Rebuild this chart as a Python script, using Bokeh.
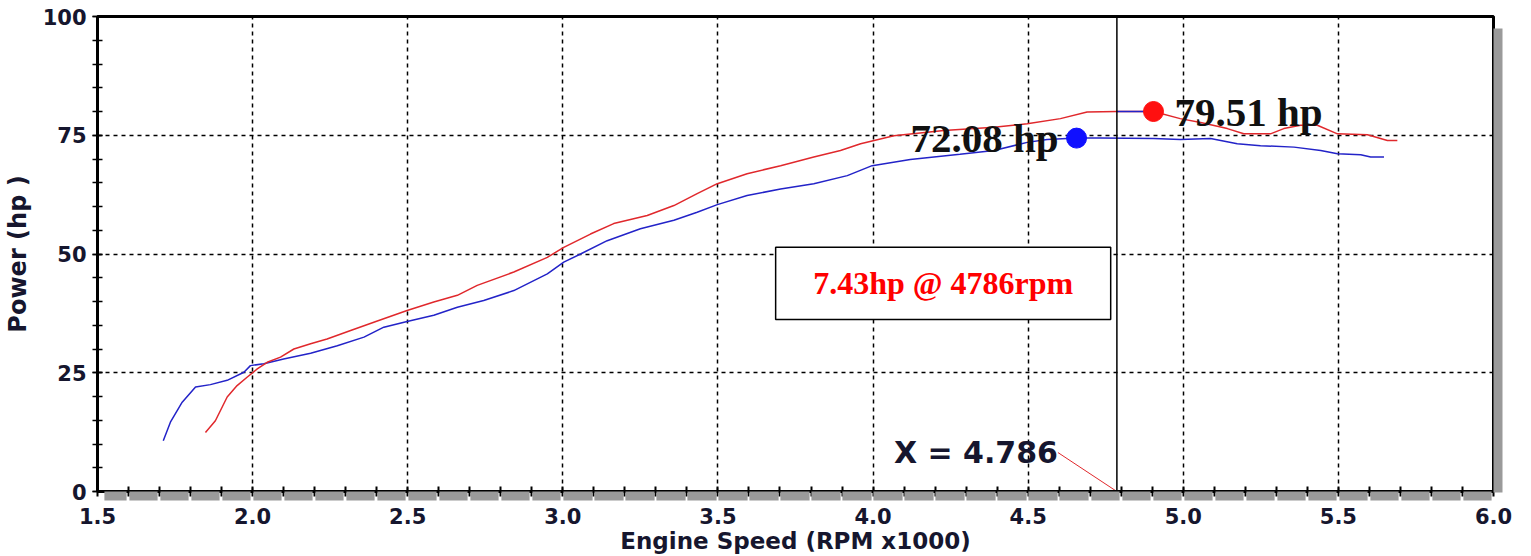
from bokeh.plotting import figure
from bokeh.models import (Range1d, SingleIntervalTicker, FixedTicker, CustomJSTickFormatter,
                          LinearAxis, Label, BoxAnnotation)
from bokeh.embed import file_html
from bokeh.resources import INLINE

# ---------------- data ----------------
blue_rpm = [1.712, 1.735, 1.773, 1.816, 1.864, 1.918, 1.972, 1.993, 2.036, 2.10, 2.187, 2.273,
            2.359, 2.423, 2.498, 2.584, 2.66, 2.745, 2.842, 2.95, 3.003, 3.057, 3.143, 3.25,
            3.358, 3.433, 3.498, 3.594, 3.702, 3.809, 3.917, 3.997, 4.12, 4.28, 4.39, 4.497,
            4.561, 4.658, 4.733, 4.905, 4.99, 5.088, 5.174, 5.249, 5.357, 5.443, 5.497, 5.572,
            5.604, 5.647]
blue_hp = [10.7, 14.6, 18.8, 22.0, 22.5, 23.4, 25.1, 26.5, 26.9, 27.9, 29.1, 30.7,
           32.5, 34.6, 35.8, 37.1, 38.8, 40.2, 42.3, 45.8, 48.3, 50.0, 52.8, 55.3,
           57.1, 58.8, 60.4, 62.3, 63.7, 64.8, 66.5, 68.6, 69.9, 71.0, 71.8, 73.5,
           74.1, 74.4, 74.4, 74.3, 74.1, 74.3, 73.2, 72.8, 72.5, 71.8, 71.1, 70.9,
           70.4, 70.4]

red_rpm = [1.848, 1.88, 1.918, 1.95, 1.983, 2.015, 2.047, 2.09, 2.133, 2.187, 2.24, 2.316,
           2.402, 2.498, 2.584, 2.66, 2.724, 2.842, 2.95, 3.003, 3.089, 3.164, 3.272, 3.358,
           3.433, 3.498, 3.594, 3.702, 3.809, 3.895, 3.96, 4.067, 4.228, 4.39, 4.497, 4.604,
           4.69, 4.787, 4.904, 4.99, 5.056, 5.142, 5.195, 5.281, 5.324, 5.378, 5.432, 5.497,
           5.594, 5.658, 5.69]
red_hp = [12.4, 14.9, 19.9, 22.3, 24.1, 25.8, 27.2, 28.3, 30.0, 31.1, 32.1, 33.9,
          35.9, 38.1, 39.9, 41.3, 43.4, 46.2, 49.3, 51.4, 54.2, 56.4, 58.1, 60.2,
          62.7, 64.8, 66.9, 68.6, 70.4, 71.8, 73.2, 74.9, 76.0, 76.7, 77.4, 78.5,
          79.9, 80.0, 80.0, 78.5, 77.7, 76.4, 75.3, 75.3, 76.4, 77.1, 77.1, 75.3,
          75.1, 73.9, 73.9]

peak_rpm = [4.904, 4.656]        # red, blue marker positions
peak_marker_hp = [80.0, 74.4]
peak_values = [79.51, 72.08]      # labelled peak powers
cursor_x = 4.786

x_min, x_max = 1.5, 6.0
y_min, y_max = 0, 100

RED = "#e0282c"
BLUE = "#2323c8"
INK = "#16162e"
SHADOW = "#9a9a9a"

FW, FH = 1396, 475
px_x = (x_max - x_min) / FW     # data units per pixel
px_y = (y_max - y_min) / FH

p = figure(frame_width=FW, frame_height=FH,
           x_range=Range1d(x_min, x_max), y_range=Range1d(y_min, y_max),
           output_backend="svg", toolbar_location=None,
           min_border_left=97, min_border_top=16, min_border_right=30, min_border_bottom=60,
           background_fill_color="white", border_fill_color="white")
p.outline_line_color = "black"
p.outline_line_width = 3

# x axis: black ticks every 0.1 (labels every 0.5); dense grey minor ticks form the drop shadow
x_major = [round(x_min + 0.1 * i, 1) for i in range(int(round((x_max - x_min) / 0.1)) + 1)]
shadow_x = []
v = x_min + 8 * px_x
while v <= x_max:
    if min(abs(v - m) for m in x_major) > 0.0055:
        shadow_x.append(round(v, 4))
    v += 0.005
p.xaxis.ticker = FixedTicker(ticks=x_major, minor_ticks=shadow_x)
p.xaxis.formatter = CustomJSTickFormatter(
    code="return Math.abs(tick*2 - Math.round(tick*2)) < 1e-6 ? tick.toFixed(1) : '';")
p.xaxis.major_tick_line_width = 2
p.xaxis.minor_tick_line_color = SHADOW
p.xaxis.minor_tick_line_width = 2.2
p.xaxis.minor_tick_in = 0
p.xaxis.minor_tick_out = 9
p.xaxis.axis_line_width = 3

p.yaxis.ticker = SingleIntervalTicker(interval=25, num_minor_ticks=5)
p.yaxis.minor_tick_line_color = "black"
p.yaxis.minor_tick_line_width = 1.5
p.yaxis.minor_tick_in = 5
p.yaxis.minor_tick_out = 5
p.yaxis.major_tick_line_width = 1.5
p.yaxis.axis_line_width = 2

for ax in (p.xaxis, p.yaxis):
    ax.axis_line_color = "black"
    ax.major_tick_line_color = "black"
    ax.major_tick_in = 5
    ax.major_tick_out = 5
    ax.major_label_text_font = "DejaVu Sans"
    ax.major_label_text_font_style = "bold"
    ax.major_label_text_font_size = "21px"
    ax.major_label_text_color = INK
    ax.axis_label_text_font = "DejaVu Sans"
    ax.axis_label_text_font_style = "bold"
    ax.axis_label_text_color = INK
p.xaxis.axis_label = "Engine Speed (RPM x1000)"
p.yaxis.axis_label = "Power (hp )"
p.xaxis.axis_label_text_font_size = "23px"
p.yaxis.axis_label_text_font_size = "24px"
p.xaxis.major_label_standoff = 7
p.xaxis.axis_label_standoff = 1
p.yaxis.major_label_standoff = 6
p.yaxis.axis_label_standoff = 8

# right-hand drop shadow: an unlabeled right axis whose dense grey ticks form a band
shadow_y = []
v = y_min
while v <= y_max - 12 * px_y:
    shadow_y.append(round(v, 3))
    v += 0.3
right_shadow = LinearAxis(ticker=FixedTicker(ticks=[], minor_ticks=shadow_y),
                          axis_line_color=None, major_tick_line_color=None,
                          minor_tick_line_color=SHADOW, minor_tick_line_width=2.2,
                          minor_tick_in=0, minor_tick_out=9,
                          major_label_text_font_size="0px")
p.add_layout(right_shadow, "right")

p.xgrid.ticker = SingleIntervalTicker(interval=0.5)
p.ygrid.ticker = SingleIntervalTicker(interval=25)
for g in (p.xgrid, p.ygrid):
    g.grid_line_color = "black"
    g.grid_line_dash = "4 4"
    g.grid_line_width = 1.5

# curves
p.line(blue_rpm, blue_hp, line_color=BLUE, line_width=1.5)
p.line(red_rpm, red_hp, line_color=RED, line_width=1.5)
seg = [(x, y) for x, y in zip(red_rpm, red_hp) if cursor_x - 0.01 <= x <= peak_rpm[0] + 0.001]
p.line([s[0] for s in seg], [s[1] for s in seg], line_color=BLUE, line_width=1.5)

# cursor
p.segment(x0=[cursor_x], y0=[y_min], x1=[cursor_x], y1=[y_max], line_color="black", line_width=1.5)

# peak markers
p.scatter([peak_rpm[0]], [peak_marker_hp[0]], size=20, color="#ff1010")
p.scatter([peak_rpm[1]], [peak_marker_hp[1]], size=20, color="#1010ff")

p.add_layout(Label(x=peak_rpm[0], y=peak_marker_hp[0], x_offset=21,
                   text=f"{peak_values[0]:.2f} hp", text_font="Liberation Serif",
                   text_font_style="bold", text_font_size="41px", text_color="#111111",
                   text_baseline="middle", text_align="left"))
p.add_layout(Label(x=peak_rpm[1], y=peak_marker_hp[1], x_offset=-18,
                   text=f"{peak_values[1]:.2f} hp", text_font="Liberation Serif",
                   text_font_style="bold", text_font_size="41px", text_color="#111111",
                   text_baseline="middle", text_align="right"))

# cursor readout
lbl_x = cursor_x - 0.19
lbl_y = 8.2
p.add_layout(Label(x=lbl_x, y=lbl_y, text=f"X = {cursor_x:.3f}", text_font="DejaVu Sans",
                   text_font_style="bold", text_font_size="30px", text_color=INK,
                   text_baseline="middle", text_align="right"))
p.line([lbl_x, cursor_x], [lbl_y, y_min], line_color=RED, line_width=1)

# difference box
diff = peak_values[0] - peak_values[1]
box_l, box_r, box_b, box_t = 3.686, 4.766, 36.2, 51.4
p.add_layout(BoxAnnotation(left=box_l, right=box_r, bottom=box_b, top=box_t,
                           fill_color="white", fill_alpha=1, line_color="black",
                           line_alpha=1, line_width=1.5))
p.add_layout(Label(x=(box_l + box_r) / 2, y=(box_b + box_t) / 2,
                   text=f"{diff:.2f}hp @ {cursor_x * 1000:.0f}rpm",
                   text_font="Liberation Serif", text_font_style="bold", text_font_size="32px",
                   text_color="#ff0000", text_align="center", text_baseline="middle"))

open("out.html", "w").write(file_html(p, INLINE))
